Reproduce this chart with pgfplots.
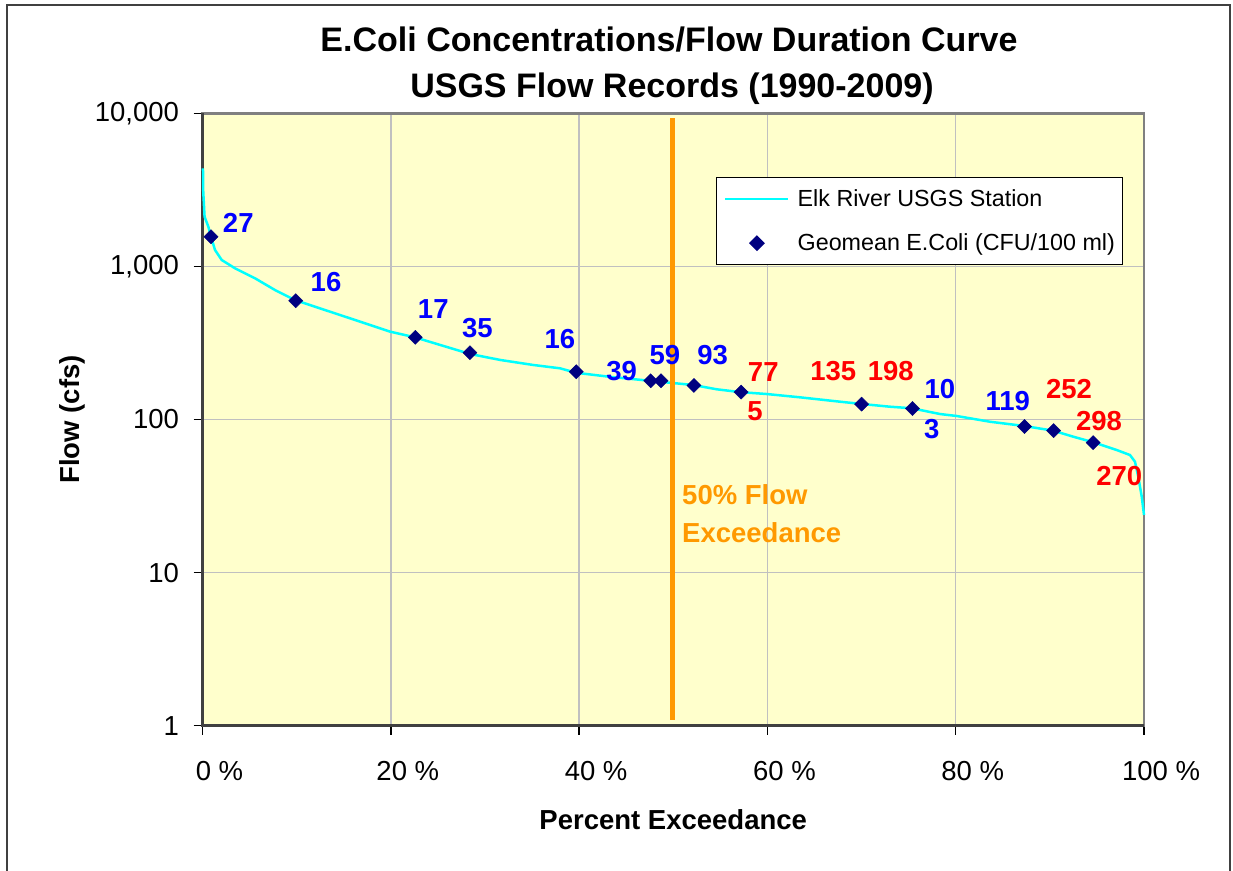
\documentclass[border=0pt]{standalone}
\usepackage{fontspec}
\setmainfont{Liberation Sans}
\usepackage{pgfplots}
\pgfplotsset{compat=1.18}
\definecolor{bgyellow}{HTML}{FFFFCC}
\definecolor{fdc}{HTML}{00FFFF}
\definecolor{navyd}{HTML}{000080}
\definecolor{lblue}{HTML}{0000FF}
\definecolor{lred}{HTML}{FF0000}
\definecolor{lorange}{HTML}{FF9900}
\definecolor{gridg}{HTML}{C0C0C0}
\definecolor{frameg}{HTML}{404040}
\newcommand\lbl{\fontsize{27.5}{30}\selectfont\bfseries}
\pgfplotsset{
  lineleg/.style={legend image code/.code={\draw[##1] (0pt,0pt) -- (63pt,0pt);}},
  markleg/.style={legend image code/.code={\draw[mark repeat=2,mark phase=2,##1] plot coordinates {(0pt,0pt) (31.5pt,0pt) (63pt,0pt)};}},
}
\begin{document}
\begin{tikzpicture}
\path[use as bounding box] (0,0) rectangle (1233pt,870pt);
\draw[line width=2pt, frameg] (7pt,-5pt) -- (7pt,865pt) -- (1230pt,865pt) -- (1230pt,-5pt);
\node[anchor=base, inner sep=0pt, font=\fontsize{34}{40}\selectfont\bfseries] at (669pt,818.3pt) {E.Coli Concentrations/Flow Duration Curve};
\node[anchor=base, inner sep=0pt, font=\fontsize{34}{40}\selectfont\bfseries] at (672pt,772pt) {USGS Flow Records (1990-2009)};
\begin{axis}[
  at={(202.5pt,144.3pt)}, anchor=south west,
  scale only axis, width=941.5pt, height=612.4pt,
  xmin=0, xmax=100, ymode=log, ymin=1, ymax=10000,
  clip=false,
  axis background/.style={fill=bgyellow},
  axis line style={line width=2.5pt, color=gray},
  grid=major, major grid style={gridg, line width=1.5pt},
  tick pos=left, tick align=outside, major tick length=9pt,
  tick style={line width=1.5pt, black},
  minor tick num=0, yminorticks=false, xminorticks=false,
  xtick={0,20,40,60,80,100},
  xticklabels={0 \%,20 \%,40 \%,60 \%,80 \%,100 \%},
  ytick={1,10,100,1000,10000},
  yticklabels={1,10,100,{1,000},{10,000}},
  /pgf/number format/assume math mode=true,
  ticklabel style={font=\fontsize{27.5}{30}\selectfont},
  xticklabel style={xshift=17pt, yshift=-23pt},
  yticklabel style={xshift=-11pt},
  xlabel={Percent Exceedance},
  ylabel={Flow (cfs)},
  label style={font=\fontsize{27.5}{30}\selectfont\bfseries},
  xlabel style={at={(axis description cs:0.5,-0.154)}, anchor=center},
  ylabel style={at={(axis description cs:-0.1386,0.5)}, anchor=center},
  legend style={at={(0.9777,0.896)}, anchor=north east, draw=black, line width=1.2pt, fill=white,
    font=\fontsize{23.3}{28}\selectfont, inner xsep=7.5pt, inner ysep=12pt, row sep=26pt,
    nodes={inner sep=0pt},
    /tikz/every odd column/.append style={column sep=8pt}},
  legend cell align=left,
]
\draw[line width=2.5pt, frameg] (rel axis cs:0,1) -- (rel axis cs:0,0) -- (rel axis cs:1,0);
\addplot[fdc, line width=2.5pt, lineleg]
  coordinates {
(0.05,4370) (0.08,3075) (0.22,2112) (0.62,1817) (0.9,1563) (1.33,1280) (2.04,1101)
(3.45,972) (5.58,836) (7.70,701) (9.82,603) (12.48,532) (15.67,458) (19.92,375)
(22.57,344) (25.23,307) (28.41,268) (31.60,245) (35.14,227) (37.97,216) (39.67,202)
(43.28,190) (47.53,179) (52.13,168) (54.62,157.5) (57.09,151) (59.93,146.7)
(63.46,139.6) (67.71,130.7) (70.02,126.3) (73.02,121.2) (75.33,118.4) (78.33,108.6)
(80.11,105.4) (83.64,96.7) (87.29,90.7) (90.37,84.5) (92.49,77.2) (94.62,71.0)
(97.10,63.2) (98.51,58.6) (99.04,53.0) (99.39,42.3) (99.76,31.3) (100,23.8)
};
\addlegendentry{Elk River USGS Station}
\addplot[only marks, mark=square*, mark size=5pt, mark options={rotate=45, fill=navyd, draw=navyd}, markleg]
  coordinates {
(0.9,1563) (9.9,597) (22.6,344) (28.4,273) (39.7,205) (47.6,179) (48.7,179)
(52.2,167) (57.2,151) (70.0,126) (75.4,118) (87.3,90) (90.4,84.6) (94.6,70.6)
};
\addlegendentry{Geomean E.Coli (CFU/100 ml)}
\addplot[lorange, line width=5pt, forget plot] coordinates {(49.9,1.09) (49.9,9300)};
\node[font=\lbl, text=lorange, anchor=west, inner sep=0pt] at (axis cs:50.93,32.1) {50\% Flow};
\node[font=\lbl, text=lorange, anchor=west, inner sep=0pt] at (axis cs:50.93,18.1) {Exceedance};
\node[font=\lbl, text=lblue] at (axis cs:3.80,1912) {27};
\node[font=\lbl, text=lblue] at (axis cs:13.12,787) {16};
\node[font=\lbl, text=lblue] at (axis cs:24.51,524) {17};
\node[font=\lbl, text=lblue] at (axis cs:29.19,398) {35};
\node[font=\lbl, text=lblue] at (axis cs:37.97,334) {16};
\node[font=\lbl, text=lblue] at (axis cs:44.52,207) {39};
\node[font=\lbl, text=lblue] at (axis cs:49.12,264) {59};
\node[font=\lbl, text=lblue] at (axis cs:54.19,264) {93};
\node[font=\lbl, text=lred] at (axis cs:59.56,205) {77};
\node[font=\lbl, text=lred] at (axis cs:58.68,114) {5};
\node[font=\lbl, text=lred] at (axis cs:67.0,207) {135};
\node[font=\lbl, text=lred] at (axis cs:73.10,207) {198};
\node[font=\lbl, text=lblue] at (axis cs:78.33,158) {10};
\node[font=\lbl, text=lblue] at (axis cs:77.45,86.7) {3};
\node[font=\lbl, text=lblue] at (axis cs:85.52,132) {119};
\node[font=\lbl, text=lred] at (axis cs:92.03,158) {252};
\node[font=\lbl, text=lred] at (axis cs:95.22,97.8) {298};
\node[font=\lbl, text=lred] at (axis cs:97.38,42.8) {270};
\end{axis}
\end{tikzpicture}
\end{document}
